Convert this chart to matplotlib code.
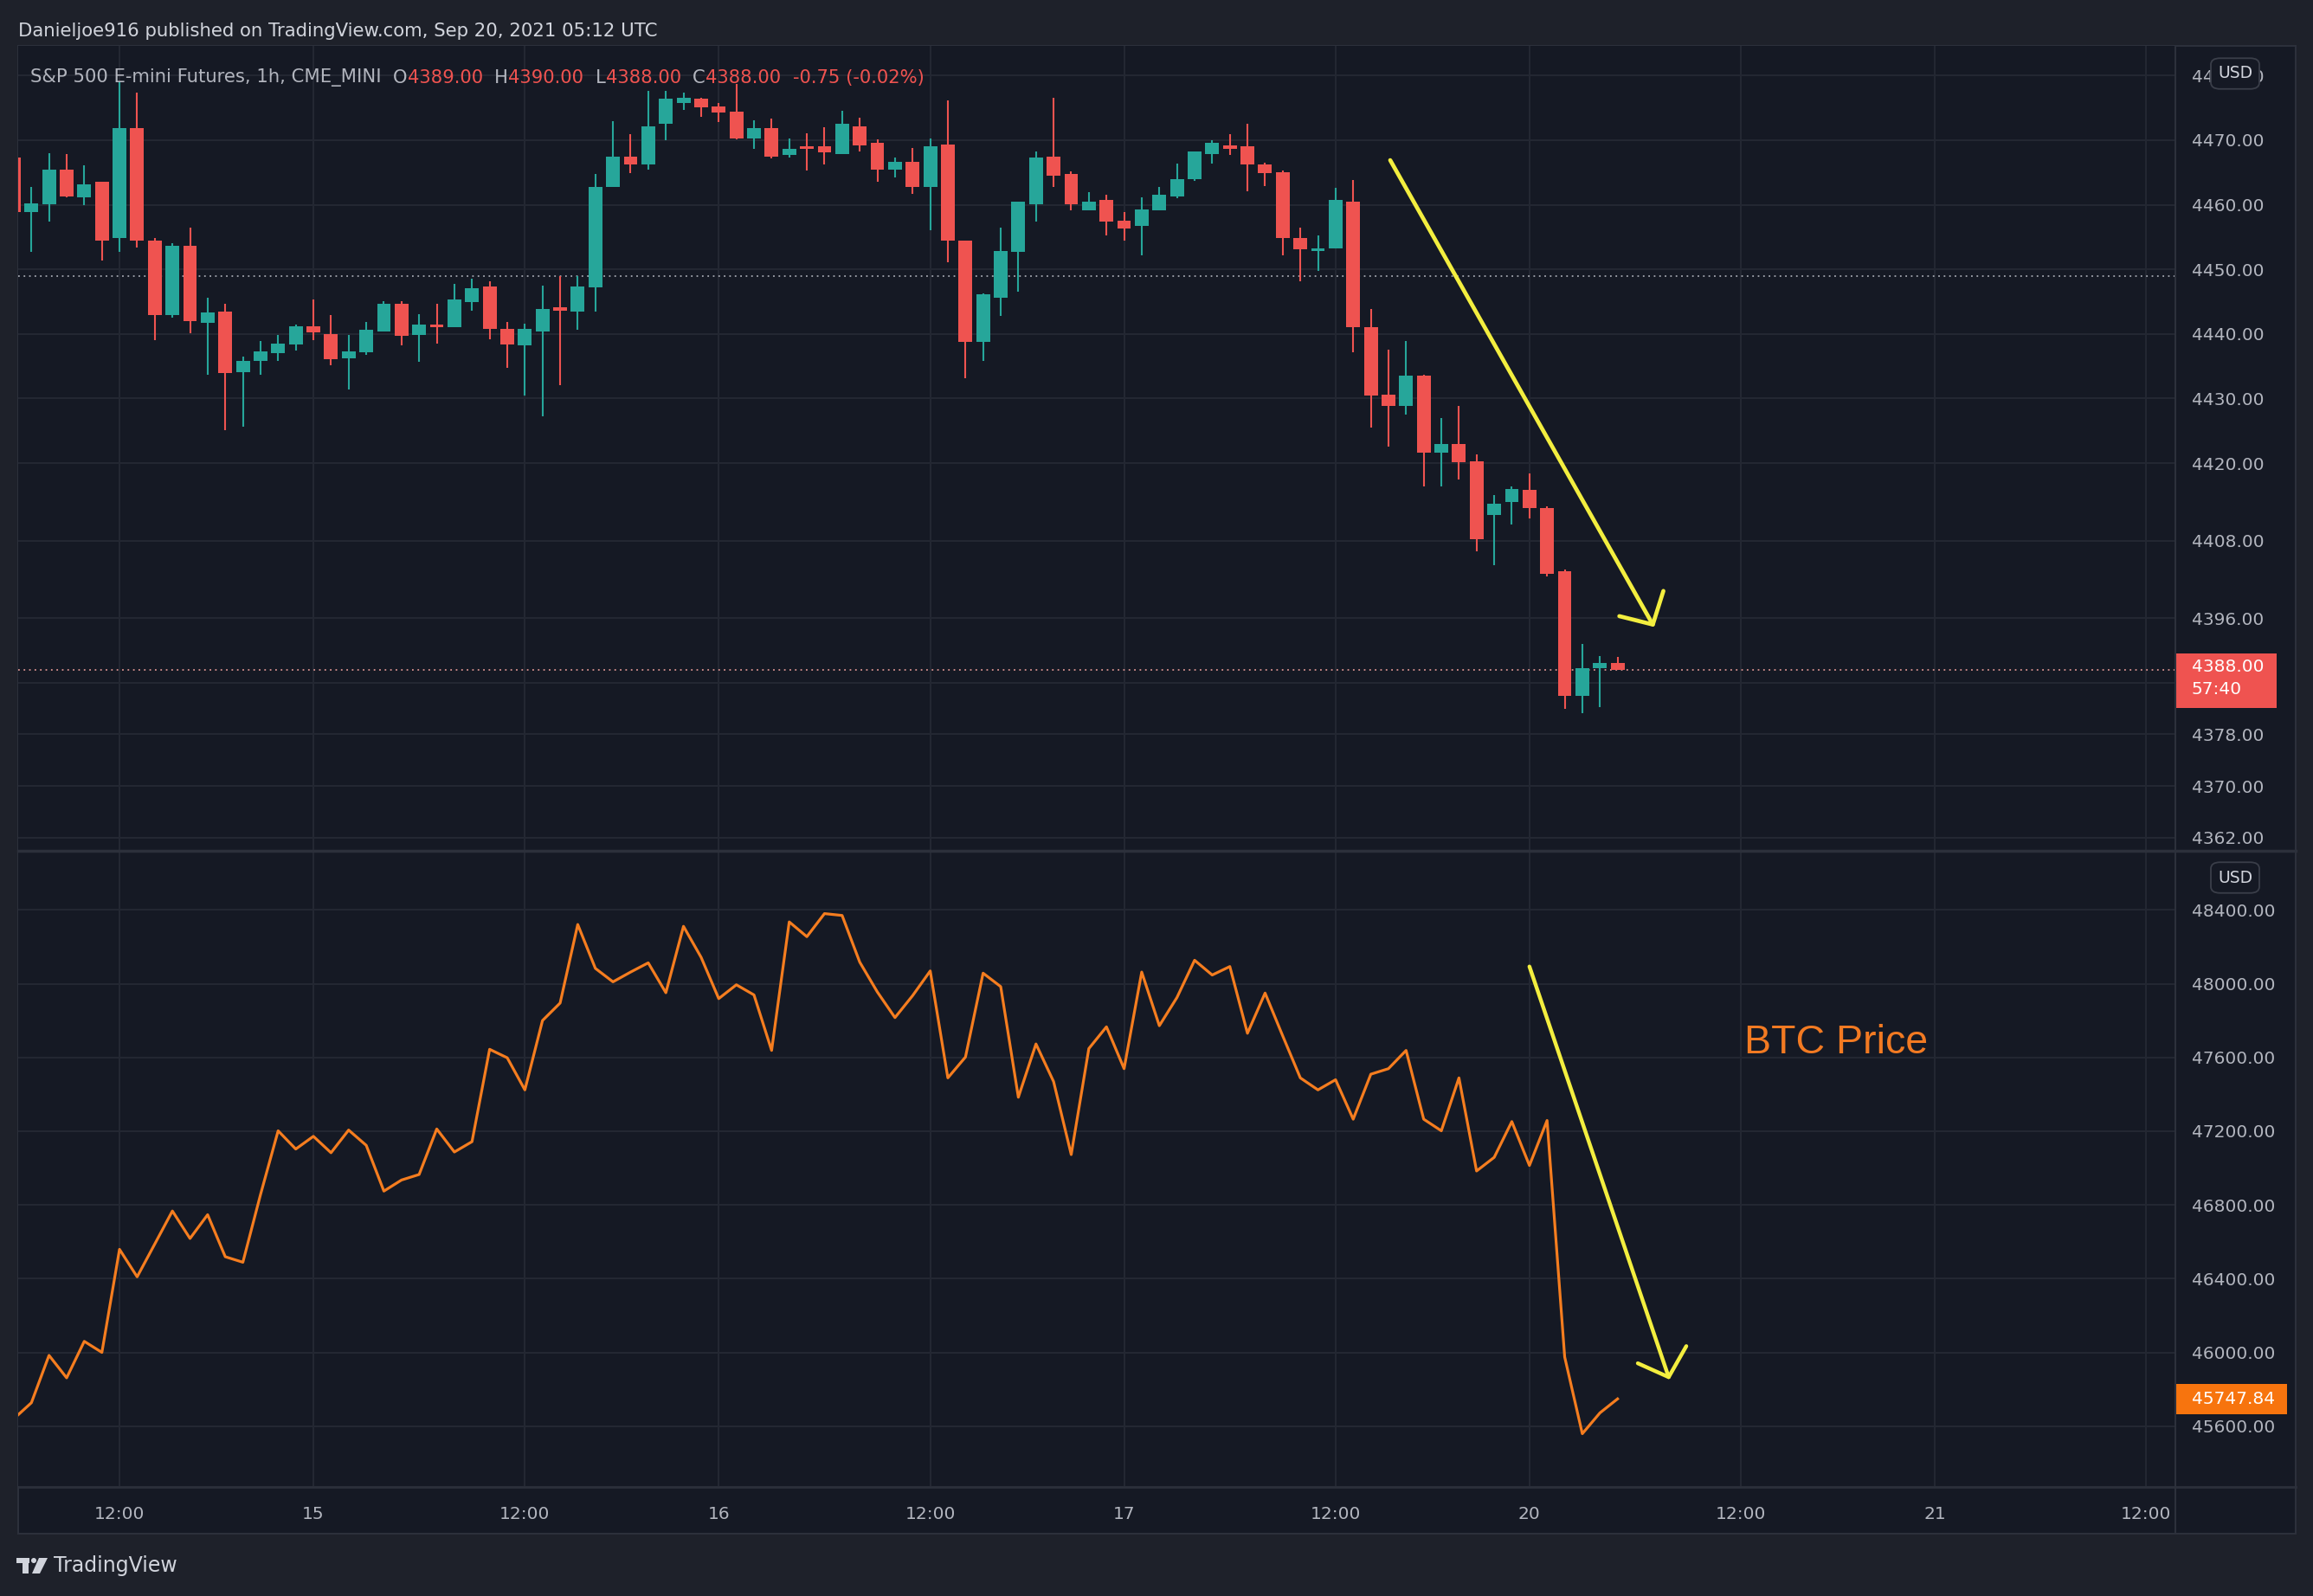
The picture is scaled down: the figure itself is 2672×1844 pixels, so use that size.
import numpy as np
import matplotlib
matplotlib.use("Agg")
import matplotlib.pyplot as plt
from matplotlib.patches import Rectangle, FancyBboxPatch, Polygon, Ellipse
from matplotlib.lines import Line2D
from matplotlib.transforms import blended_transform_factory

# ---- data (bar index = hourly bars, 0 = Sep 14 12:00) ----
bars = np.arange(-6, 86)

opens = [4467.3, 4458.9, 4460.1, 4465.5, 4461.2, 4463.5, 4454.9, 4471.9, 4454.5, 4442.9,
         4453.6, 4441.7, 4443.5, 4434.1, 4435.8, 4437.0, 4438.4, 4441.2, 4440.0, 4436.2,
         4437.2, 4440.4, 4444.7, 4439.9, 4441.5, 4441.1, 4444.9, 4447.3, 4440.8, 4438.2,
         4440.4, 4444.1, 4443.4, 4447.2, 4462.8, 4467.5, 4466.3, 4472.5, 4475.8, 4476.4,
         4475.2, 4474.4, 4470.3, 4471.9, 4467.7, 4469.0, 4469.0, 4467.8, 4472.2, 4469.6,
         4465.4, 4466.7, 4462.7, 4469.3, 4454.4, 4438.7, 4445.6, 4452.7, 4460.1, 4467.5,
         4464.7, 4459.2, 4460.8, 4457.5, 4456.7, 4459.2, 4461.3, 4463.9, 4467.9, 4469.2,
         4469.0, 4466.3, 4465.1, 4454.9, 4452.8, 4453.2, 4460.5, 4441.1, 4430.6, 4428.9,
         4433.5, 4421.6, 4423.0, 4420.3, 4411.9, 4414.0, 4415.9, 4413.0, 4403.3, 4383.9,
         4388.3, 4389.0]
highs = [4468.0, 4462.8, 4468.0, 4467.9, 4466.1, 4463.6, 4479.0, 4477.3, 4454.9, 4454.0,
         4456.4, 4445.6, 4444.6, 4436.5, 4438.9, 4439.9, 4441.5, 4445.3, 4442.9, 4439.9,
         4441.9, 4445.0, 4445.1, 4443.0, 4444.6, 4447.8, 4448.6, 4448.1, 4441.9, 4441.6,
         4447.5, 4448.9, 4449.0, 4464.8, 4473.0, 4470.9, 4477.6, 4477.6, 4477.3, 4476.6,
         4475.7, 4478.7, 4473.1, 4473.4, 4470.2, 4471.1, 4472.0, 4474.5, 4473.5, 4470.1,
         4467.3, 4468.8, 4470.2, 4476.1, 4454.5, 4446.3, 4456.4, 4460.5, 4468.2, 4476.5,
         4465.2, 4461.9, 4461.5, 4458.9, 4461.2, 4462.8, 4466.4, 4468.2, 4470.0, 4470.9,
         4472.6, 4466.5, 4465.3, 4456.4, 4455.3, 4462.6, 4463.8, 4443.8, 4437.5, 4438.9,
         4433.7, 4427.0, 4428.8, 4421.3, 4415.1, 4416.4, 4418.4, 4413.3, 4403.5, 4392.0,
         4390.1, 4390.0]
lows = [4457.5, 4452.7, 4457.4, 4461.2, 4459.9, 4451.3, 4452.7, 4453.4, 4439.1, 4442.5,
        4440.1, 4433.7, 4425.1, 4425.6, 4433.7, 4435.8, 4437.4, 4439.0, 4435.2, 4431.4,
        4436.7, 4440.4, 4438.2, 4435.7, 4438.5, 4441.1, 4443.6, 4439.2, 4434.7, 4430.4,
        4427.3, 4432.0, 4440.6, 4443.5, 4462.8, 4464.9, 4465.4, 4470.0, 4474.7, 4473.6,
        4472.8, 4470.1, 4468.7, 4467.2, 4467.3, 4465.3, 4466.3, 4467.8, 4468.3, 4463.5,
        4464.2, 4461.7, 4456.1, 4451.1, 4433.1, 4435.8, 4442.8, 4446.6, 4457.4, 4462.8,
        4459.2, 4459.2, 4455.2, 4454.5, 4452.2, 4459.2, 4461.0, 4463.7, 4466.4, 4467.7,
        4462.1, 4462.9, 4452.2, 4448.2, 4449.8, 4453.2, 4437.2, 4425.5, 4422.6, 4427.5,
        4416.4, 4416.4, 4417.4, 4406.4, 4404.2, 4410.5, 4411.4, 4402.4, 4381.9, 4381.3,
        4382.2, 4388.0]
closes = [4458.9, 4460.2, 4465.4, 4461.3, 4463.2, 4454.5, 4471.9, 4454.5, 4442.9, 4453.6,
          4442.0, 4443.3, 4434.0, 4435.8, 4437.3, 4438.5, 4441.2, 4440.2, 4436.1, 4437.3,
          4440.6, 4444.6, 4439.7, 4441.5, 4441.1, 4445.3, 4447.1, 4440.8, 4438.4, 4440.8,
          4443.8, 4443.6, 4447.3, 4462.8, 4467.5, 4466.3, 4472.2, 4476.4, 4476.6, 4475.1,
          4474.3, 4470.3, 4471.9, 4467.5, 4468.7, 4468.7, 4468.1, 4472.6, 4469.2, 4465.4,
          4466.7, 4462.7, 4469.1, 4454.5, 4438.7, 4446.2, 4452.8, 4460.5, 4467.3, 4464.5,
          4460.1, 4460.5, 4457.4, 4456.3, 4459.3, 4461.5, 4464.0, 4468.2, 4469.6, 4468.7,
          4466.3, 4464.9, 4454.9, 4453.1, 4453.2, 4460.8, 4441.1, 4430.4, 4428.9, 4433.5,
          4421.6, 4423.0, 4420.2, 4408.2, 4413.7, 4416.0, 4413.1, 4402.8, 4383.9, 4388.3,
          4389.0, 4388.0]

btc = [45640, 45727, 45984, 45862, 46060, 46000, 46559, 46410, 46588, 46767,
       46618, 46747, 46519, 46489, 46856, 47202, 47103, 47172, 47083, 47206,
       47123, 46875, 46935, 46965, 47212, 47087, 47143, 47644, 47598, 47424,
       47800, 47895, 48321, 48083, 48010, 48063, 48113, 47951, 48311, 48143,
       47919, 47994, 47939, 47638, 48335, 48255, 48380, 48370, 48117, 47955,
       47816, 47935, 48069, 47489, 47602, 48057, 47984, 47384, 47673, 47469,
       47073, 47648, 47766, 47539, 48063, 47772, 47925, 48127, 48047, 48093,
       47731, 47949, 47717, 47489, 47424, 47479, 47265, 47509, 47539, 47638,
       47265, 47202, 47489, 46984, 47058, 47252, 47014, 47258, 45975, 45559,
       45672, 45748]

time_ticks = [0, 11, 23, 34, 46, 57, 69, 80, 92, 103, 115]
time_labels = ["12:00", "15", "12:00", "16", "12:00", "17", "12:00", "20", "12:00", "21", "12:00"]
spx_ticks = [4480, 4470, 4460, 4450, 4440, 4430, 4420, 4408, 4396, 4386, 4378, 4370, 4362]
btc_ticks = [48400, 48000, 47600, 47200, 46800, 46400, 46000, 45600]
prev_close = 4449.0
last_spx = 4388.0
last_btc = 45747.84

# ---- style ----
W, H = 2672, 1844
BG_OUT = "#1e212a"
BG = "#151924"
GRID = "#242833"
BORDER = "#2c303b"
TXT = "#b2b5be"
UP = "#26a69a"
DOWN = "#ef5350"
YELLOW = "#f3ee3f"
ORANGE = "#f57d1f"


def fx(x):
    return x / W


def fy(y):
    return 1 - y / H


fig = plt.figure(figsize=(W / 100, H / 100), dpi=100)
fig.patch.set_facecolor(BG_OUT)

fig.add_artist(Rectangle((fx(21), fy(1772)), (2652 - 21) / W, (1772 - 53) / H,
                         transform=fig.transFigure, facecolor=BG, edgecolor=BORDER,
                         lw=1.5, zorder=-1))

ax_top = fig.add_axes([fx(21), fy(982), (2513 - 21) / W, (982 - 53) / H])
ax_bot = fig.add_axes([fx(21), fy(1717), (2513 - 21) / W, (1717 - 984) / H])

for ax in (ax_top, ax_bot):
    ax.set_facecolor(BG)
    for s in ax.spines.values():
        s.set_visible(False)
    ax.set_xlim(-5.75, 116.65)
    ax.set_xticks(time_ticks)
    ax.grid(True, color=GRID, lw=1.4)
    ax.set_axisbelow(True)
    ax.tick_params(axis="y", length=0, pad=13.5, labelsize=14.5, labelcolor=TXT,
                   left=False, labelleft=False, right=True, labelright=True)
    ax.tick_params(axis="x", length=0, labelsize=14.5, labelcolor=TXT)

# ---- top panel: candles ----
o = np.array(opens)
h = np.array(highs)
l = np.array(lows)
c = np.array(closes)
cols = np.where(c >= o, UP, DOWN)
ax_top.vlines(bars, l, h, colors=cols, lw=1.5, zorder=3)
ax_top.bar(bars, np.maximum(np.abs(c - o), 0.3), bottom=np.minimum(o, c),
           width=0.78, color=cols, zorder=4)
ax_top.axhline(prev_close, color="#a3a6af", lw=1.3, ls=(0, (1, 2.5)), zorder=2)
ax_top.axhline(last_spx, color="#d9928f", lw=1.3, ls=(0, (1, 2.5)), zorder=2)
ax_top.set_ylim(4360.1, 4484.6)
ax_top.set_yticks(spx_ticks)
ax_top.set_yticklabels(["" if v == 4386 else f"{v:.2f}" for v in spx_ticks])
ax_top.tick_params(axis="x", labelbottom=False)

# yellow arrow (top)
ax_top.plot([72.1, 87.0], [4466.9, 4395.0], color=YELLOW, lw=3.4,
            solid_capstyle="round", zorder=6)
ax_top.plot([85.1, 87.0, 87.6], [4396.3, 4395.0, 4400.2], color=YELLOW, lw=3.4,
            solid_capstyle="round", solid_joinstyle="round", zorder=6)

# ---- bottom panel: BTC line ----
ax_bot.plot(bars, btc, color=ORANGE, lw=2.3, zorder=4)
ax_bot.set_ylim(45275, 48716)
ax_bot.set_yticks(btc_ticks)
ax_bot.set_yticklabels([f"{v:.2f}" for v in btc_ticks])
ax_bot.set_xticklabels(time_labels)
ax_bot.tick_params(axis="x", pad=16.5)

ax_bot.plot([80.0, 87.9], [48093, 45866], color=YELLOW, lw=3.2,
            solid_capstyle="round", zorder=6)
ax_bot.plot([86.15, 87.9, 88.9], [45941, 45866, 46034], color=YELLOW, lw=3.2,
            solid_capstyle="round", solid_joinstyle="round", zorder=6)
ax_bot.text(92.2, 47680, "BTC Price", color="#f27a22", fontsize=33.5,
            family="Liberation Sans", va="center", ha="left", zorder=6)

# ---- last price tags on the price scale ----
tr_top = blended_transform_factory(ax_top.transAxes, ax_top.transData)
ax_top.add_patch(Rectangle((1.0, 4382.1), 0.047, 8.4, transform=tr_top,
                           facecolor=DOWN, edgecolor="none", clip_on=False, zorder=10))
ax_top.text(1.0076, 4388.5, f"{last_spx:.2f}", transform=tr_top, color="white",
            fontsize=14.5, va="center", ha="left", zorder=11, clip_on=False)
ax_top.text(1.0076, 4384.9, "57:40", transform=tr_top, color="white",
            fontsize=14.5, va="center", ha="left", zorder=11, clip_on=False)

tr_bot = blended_transform_factory(ax_bot.transAxes, ax_bot.transData)
ax_bot.add_patch(Rectangle((1.0, 45666), 0.0518, 164, transform=tr_bot,
                           facecolor="#f7740e", edgecolor="none", clip_on=False, zorder=10))
ax_bot.text(1.0076, last_btc, f"{last_btc:.2f}", transform=tr_bot, color="white",
            fontsize=14.5, va="center", ha="left", zorder=11, clip_on=False)

# ---- frame separators ----
for xs, ys, lw in [([2513, 2513], [53, 1772], 1.5),
                   ([21, 2652], [983, 983], 2.5),
                   ([21, 2652], [1718, 1718], 2.0)]:
    fig.add_artist(Line2D([fx(v) for v in xs], [fy(v) for v in ys],
                          transform=fig.transFigure, color=BORDER, lw=lw, zorder=5))

# USD badges
for yc in (85, 1014):
    fig.add_artist(FancyBboxPatch((fx(2558), fy(yc + 15)), 48 / W, 30 / H,
                                  boxstyle="round,pad=0.0015,rounding_size=0.004",
                                  transform=fig.transFigure, facecolor=BG,
                                  edgecolor="#3a3e49", lw=1.3, zorder=6))
    fig.text(fx(2582), fy(yc), "USD", color="#d1d4dc", fontsize=13.5,
             ha="center", va="center", zorder=7)

# ---- header and legend ----
fig.text(fx(21), fy(36), "Danieljoe916 published on TradingView.com, Sep 20, 2021 05:12 UTC",
         color="#d1d4dc", fontsize=15.3, va="center", ha="left")

renderer = fig.canvas.get_renderer()
pieces = [("S&P 500 E-mini Futures, 1h, CME_MINI  ", TXT), ("O", TXT), ("4389.00  ", DOWN),
          ("H", TXT), ("4390.00  ", DOWN), ("L", TXT), ("4388.00  ", DOWN),
          ("C", TXT), ("4388.00  ", DOWN), ("-0.75 (-0.02%)", DOWN)]
xpos = 35
for s, col in pieces:
    t = fig.text(fx(xpos), fy(90), s, color=col, fontsize=15.2, va="center", ha="left")
    xpos += t.get_window_extent(renderer).width

# ---- footer logo ----
LOGO = "#d1d4dc"
fig.add_artist(Rectangle((fx(19), fy(1806)), 15 / W, 6 / H, transform=fig.transFigure,
                         facecolor=LOGO, edgecolor="none"))
fig.add_artist(Rectangle((fx(26), fy(1818)), 7 / W, 18 / H, transform=fig.transFigure,
                         facecolor=LOGO, edgecolor="none"))
fig.add_artist(Ellipse((fx(39), fy(1803)), 6 / W, 6 / H, transform=fig.transFigure,
                       facecolor=LOGO, edgecolor="none"))
fig.add_artist(Polygon([(fx(45), fy(1800)), (fx(55), fy(1800)), (fx(46), fy(1818)),
                        (fx(37), fy(1818))], closed=True, transform=fig.transFigure,
                       facecolor=LOGO, edgecolor="none"))
fig.text(fx(62), fy(1809), "TradingView", color=LOGO, fontsize=17, va="center", ha="left")

fig.savefig("out.png", dpi=100, facecolor=fig.get_facecolor())
